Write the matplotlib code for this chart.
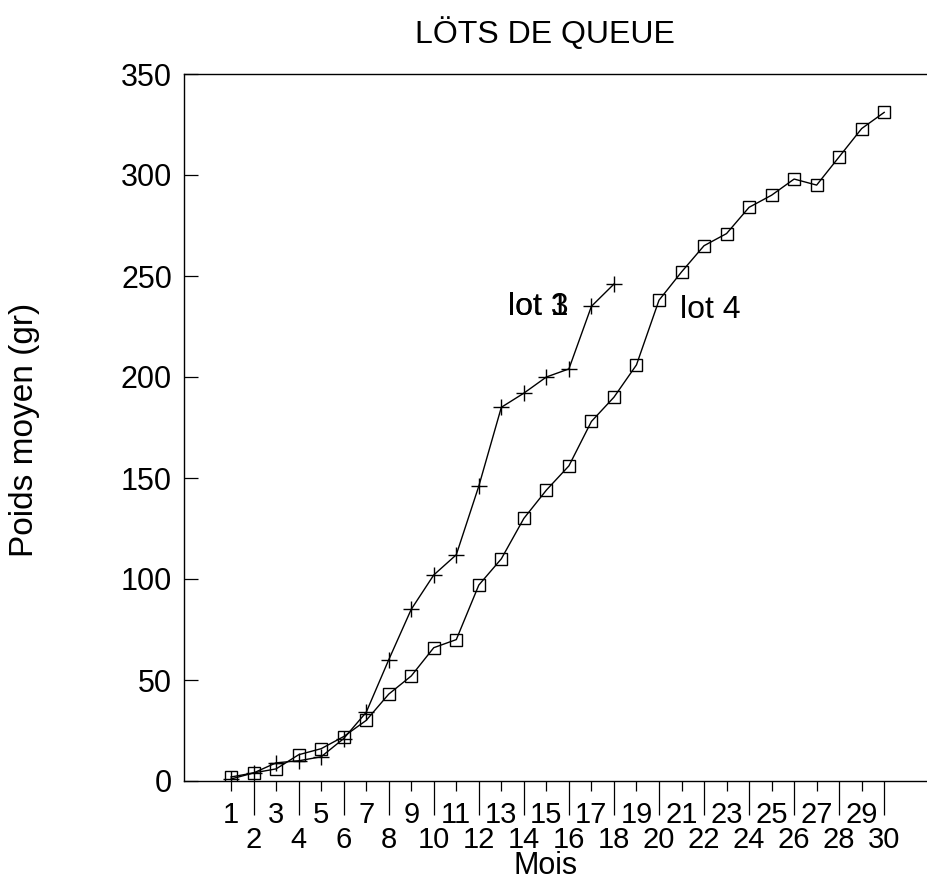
"""Lots de queue: poids moyen (gr) par mois, lots 3 et 4."""
import matplotlib
matplotlib.use("Agg")
import matplotlib.pyplot as plt

plt.rcParams["font.family"] = ["Liberation Sans", "DejaVu Sans"]

MONTHS_LOT3 = list(range(1, 19))
LOT3 = [1, 4, 9, 10, 12, 21, 34, 60, 85, 102, 112, 146,
        185, 192, 200, 204, 235, 246]

MONTHS_LOT4 = list(range(1, 31))
LOT4 = [2, 4, 6, 13, 16, 22, 30, 43, 52, 66, 70, 97,
        110, 130, 144, 156, 178, 190, 206, 238, 252, 265, 271, 284,
        290, 298, 295, 309, 323, 331]

ODD_TICKS = list(range(1, 30, 2))
EVEN_TICKS = list(range(2, 31, 2))
Y_TICKS = list(range(0, 351, 50))

fig = plt.figure(figsize=(9.27, 8.82), dpi=100)
ax = fig.add_axes([184 / 927, 101 / 882, 1 - 184 / 927, 707 / 882])

ax.plot(MONTHS_LOT3, LOT3, color="black", lw=1.0, marker="+",
        markersize=11, markeredgewidth=1.0)
ax.plot(MONTHS_LOT4, LOT4, color="black", lw=1.0, marker="s",
        markersize=8.5, markerfacecolor="none", markeredgewidth=1.0)

# the two labels are printed on top of each other in the original
ax.text(13.3, 230.5, "lot 1", fontsize=23, ha="left", va="baseline")
ax.text(13.3, 230.5, "lot 3", fontsize=23, ha="left", va="baseline")
ax.text(20.95, 229, "lot 4", fontsize=23, ha="left", va="baseline")

ax.set_xlim(-1.09, 31.9)
ax.set_ylim(0, 350)

ax.set_xticks(ODD_TICKS, [str(v) for v in ODD_TICKS])
ax.set_xticks(EVEN_TICKS, [str(v) for v in EVEN_TICKS], minor=True)
ax.tick_params(axis="x", which="major", direction="out", length=7.2,
               width=0.9, pad=7.5, labelsize=21)
ax.tick_params(axis="x", which="minor", direction="out", length=24.5,
               width=0.9, pad=8.0, labelsize=21)

ax.set_yticks(Y_TICKS, [str(v) for v in Y_TICKS])
ax.tick_params(axis="y", direction="in", length=10, width=0.9,
               pad=8.6, labelsize=22)

ax.spines["right"].set_visible(False)
for side in ("left", "bottom", "top"):
    ax.spines[side].set_linewidth(1.0)

fig.text(545 / 927, 1 - 43 / 882, "LÖTS DE QUEUE", fontsize=23,
         ha="center", va="baseline")
fig.text(546 / 927, 1 - 874 / 882, "Mois", fontsize=22,
         ha="center", va="baseline")
fig.text(24.5 / 927, 1 - 430 / 882, "Poids moyen (gr)", fontsize=24,
         rotation=90, ha="center", va="center")

fig.savefig("out.png", dpi=100, facecolor="white")
